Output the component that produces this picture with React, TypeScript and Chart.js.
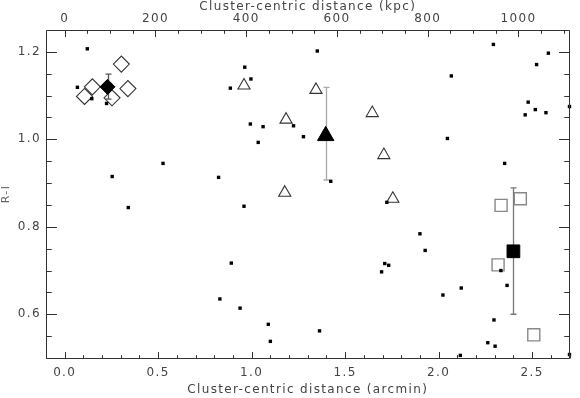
import React, { useEffect, useRef } from 'react';
import { Chart, registerables } from 'chart.js';

Chart.register(...registerables);

// ---- axes ----
const KPC_PER_ARCMIN = 412;
const X_MIN = -0.1;
const X_MAX = 2.7;
const Y_MIN = 0.5;
const Y_MAX = 1.25;
const xTickLabels = [0.0, 0.5, 1.0, 1.5, 2.0, 2.5];
const xTopTickLabels = [0, 200, 400, 600, 800, 1000];
const yTickLabels = [0.6, 0.8, 1.0, 1.2];
const X_MINOR_STEP = 0.1;
const XTOP_MINOR_STEP = 50;
const Y_MINOR_STEP = 0.05;

// ---- individual galaxies (small black squares) ----
const galaxyX = [
  0.121, 0.068, 0.145, 0.224, 0.254, 0.526, 0.823, 0.886, 0.963, 0.996, 0.993, 1.061, 1.035, 1.224,
  1.351, 1.277, 1.423, 2.068, 2.047, 2.293, 2.353, 2.587, 2.524, 2.479, 2.517, 2.463, 2.574, 2.7,
  0.34, 0.959, 0.891, 0.83, 0.938, 1.089, 1.1,
  1.723, 1.9, 1.928, 1.712, 1.733, 1.695, 2.121, 2.023, 2.333, 2.366, 1.363, 2.296, 2.263, 2.302, 2.116, 2.7,
];
const galaxyY = [
  1.207, 1.119, 1.093, 1.082, 0.915, 0.945, 0.913, 1.117, 1.165, 1.138, 1.035, 1.029, 0.993, 1.031,
  1.202, 1.006, 0.904, 1.145, 1.002, 1.217, 0.945, 1.197, 1.171, 1.085, 1.068, 1.056, 1.061, 1.075,
  0.844, 0.847, 0.717, 0.635, 0.614, 0.577, 0.538,
  0.856, 0.784, 0.746, 0.716, 0.712, 0.697, 0.66, 0.644, 0.7, 0.666, 0.562, 0.587, 0.535, 0.527, 0.506, 0.508,
];

// ---- inner group (diamonds) ----
const diamondX = [0.303, 0.148, 0.106, 0.253, 0.338];
const diamondY = [1.172, 1.12, 1.098, 1.095, 1.116];
const diamondMeanX = [0.229];
const diamondMeanY = [1.12];
const diamondErrLo = [1.092];
const diamondErrHi = [1.149];

// ---- middle group (triangles) ----
const triangleX = [0.959, 1.184, 1.177, 1.344, 1.645, 1.707, 1.755];
const triangleY = [1.123, 1.045, 0.878, 1.113, 1.06, 0.964, 0.864];
const triangleMeanX = [1.396];
const triangleMeanY = [1.008];
const triangleErrLo = [0.907];
const triangleErrHi = [1.119];

// ---- outer group (squares) ----
const squareX = [2.334, 2.437, 2.318, 2.509];
const squareY = [0.849, 0.864, 0.713, 0.553];
const squareMeanX = [2.4];
const squareMeanY = [0.744];
const squareErrLo = [0.6];
const squareErrHi = [0.889];

const FONT = '"DejaVu Sans", "Liberation Sans", sans-serif';
const TEXT_COLOR = '#444';
const AXIS_COLOR = '#333';

const pts = (xs: number[], ys: number[]) => xs.map((x, i) => ({ x, y: ys[i] }));

const spacingPlugin = {
  id: 'letterSpacing',
  beforeDraw(chart: any) {
    (chart.ctx as any).letterSpacing = '1.35px';
  },
};

const errorBarPlugin = {
  id: 'errorBars',
  beforeDatasetsDraw(chart: any) {
    const ctx = chart.ctx;
    const xs = chart.scales.x;
    const ys = chart.scales.y;
    chart.data.datasets.forEach((ds: any) => {
      if (!ds.errLo) return;
      ds.data.forEach((p: any, i: number) => {
        const px = Math.round(xs.getPixelForValue(p.x)) + 0.5;
        const y1 = ys.getPixelForValue(ds.errLo[i]);
        const y2 = ys.getPixelForValue(ds.errHi[i]);
        ctx.save();
        ctx.strokeStyle = ds.errColor;
        ctx.lineWidth = 1.3;
        ctx.beginPath();
        ctx.moveTo(px, y1);
        ctx.lineTo(px, y2);
        ctx.moveTo(px - 3, y1);
        ctx.lineTo(px + 3, y1);
        ctx.moveTo(px - 3, y2);
        ctx.lineTo(px + 3, y2);
        ctx.stroke();
        ctx.restore();
      });
    });
  },
};

const framePlugin = {
  id: 'frameTicks',
  afterDatasetsDraw(chart: any) {
    const ctx = chart.ctx;
    const { left, right, top, bottom } = chart.chartArea;
    const xs = chart.scales.x;
    const xt = chart.scales.xTop;
    const ys = chart.scales.y;
    const L = Math.round(left) + 0.5;
    const R = Math.round(right) - 0.5;
    const T = Math.round(top) + 0.5;
    const B = Math.round(bottom) + 0.5;
    ctx.save();
    ctx.strokeStyle = AXIS_COLOR;
    ctx.lineWidth = 1;
    ctx.beginPath();
    ctx.rect(L, T, R - L, B - T);
    const h = bottom - top;
    const w = right - left;
    const xMaj = 0.02 * h;
    const yMaj = 0.02 * w;
    for (let k = Math.ceil(X_MIN / X_MINOR_STEP); k * X_MINOR_STEP <= X_MAX + 1e-9; k++) {
      const v = k * X_MINOR_STEP;
      const isMaj = xTickLabels.some((t) => Math.abs(t - v) < 1e-6);
      const len = isMaj ? xMaj : xMaj / 2;
      const px = Math.round(xs.getPixelForValue(v)) + 0.5;
      ctx.moveTo(px, B);
      ctx.lineTo(px, B - len);
    }
    const kMin = X_MIN * KPC_PER_ARCMIN;
    const kMax = X_MAX * KPC_PER_ARCMIN;
    for (let k = Math.ceil(kMin / XTOP_MINOR_STEP); k * XTOP_MINOR_STEP <= kMax; k++) {
      const v = k * XTOP_MINOR_STEP;
      const isMaj = xTopTickLabels.includes(v);
      const len = isMaj ? xMaj : xMaj / 2;
      const px = Math.round(xt.getPixelForValue(v)) + 0.5;
      ctx.moveTo(px, T);
      ctx.lineTo(px, T + len);
    }
    for (let k = Math.ceil(Y_MIN / Y_MINOR_STEP); k * Y_MINOR_STEP <= Y_MAX + 1e-9; k++) {
      const v = k * Y_MINOR_STEP;
      const isMaj = yTickLabels.some((t) => Math.abs(t - v) < 1e-6);
      const len = isMaj ? yMaj : yMaj / 2;
      const py = Math.round(ys.getPixelForValue(v)) + 0.5;
      ctx.moveTo(L, py);
      ctx.lineTo(L + len, py);
      ctx.moveTo(R, py);
      ctx.lineTo(R - len, py);
    }
    ctx.stroke();
    ctx.restore();
  },
};

export default function App() {
  const ref = useRef<HTMLCanvasElement | null>(null);
  useEffect(() => {
    if (!ref.current) return;
    const chart = new Chart(ref.current, {
      type: 'scatter',
      data: {
        datasets: [
          {
            label: 'galaxies',
            data: pts(galaxyX, galaxyY),
            pointStyle: 'rect',
            pointRadius: 2.4,
            backgroundColor: '#000',
            borderColor: '#000',
            borderWidth: 0,
            order: 0,
            clip: false,
          } as any,
          {
            label: 'diamond mean',
            data: pts(diamondMeanX, diamondMeanY),
            pointStyle: 'rectRot',
            pointRadius: 7.5,
            backgroundColor: '#000',
            borderColor: '#000',
            borderWidth: 1,
            order: 1,
            errLo: diamondErrLo,
            errHi: diamondErrHi,
            errColor: '#555',
          },
          {
            label: 'triangle mean',
            data: pts(triangleMeanX, triangleMeanY),
            pointStyle: 'triangle',
            pointRadius: 9.5,
            backgroundColor: '#000',
            borderColor: '#000',
            borderWidth: 1,
            order: 1,
            errLo: triangleErrLo,
            errHi: triangleErrHi,
            errColor: '#aaa',
          },
          {
            label: 'square mean',
            data: pts(squareMeanX, squareMeanY),
            pointStyle: 'rect',
            pointRadius: 9,
            backgroundColor: '#000',
            borderColor: '#000',
            borderWidth: 1,
            order: 1,
            errLo: squareErrLo,
            errHi: squareErrHi,
            errColor: '#777',
          },
          {
            label: 'diamonds',
            data: pts(diamondX, diamondY),
            pointStyle: 'rectRot',
            pointRadius: 8,
            backgroundColor: 'rgba(255,255,255,0)',
            borderColor: '#333',
            borderWidth: 1.1,
            order: 2,
          },
          {
            label: 'triangles',
            data: pts(triangleX, triangleY),
            pointStyle: 'triangle',
            pointRadius: 7,
            backgroundColor: 'rgba(255,255,255,0)',
            borderColor: '#333',
            borderWidth: 1.1,
            order: 2,
          },
          {
            label: 'squares',
            data: pts(squareX, squareY),
            pointStyle: 'rect',
            pointRadius: 8.5,
            backgroundColor: 'rgba(255,255,255,0)',
            borderColor: '#888',
            borderWidth: 1.4,
            order: 2,
          },
        ],
      },
      options: {
        responsive: false,
        animation: false,
        layout: { padding: { left: 0, right: 1, top: 0, bottom: 0 } },
        plugins: { legend: { display: false }, tooltip: { enabled: false } },
        scales: {
          x: {
            type: 'linear',
            position: 'bottom',
            min: X_MIN,
            max: X_MAX,
            afterBuildTicks: (s: any) => {
              s.ticks = xTickLabels.map((v) => ({ value: v }));
            },
            afterFit: (s: any) => {
              s.height = 40;
            },
            grid: { display: false, drawTicks: false },
            border: { display: false },
            ticks: {
              autoSkip: false,
              maxRotation: 0,
              padding: 8,
              color: TEXT_COLOR,
              font: { family: FONT, size: 12 },
              callback: (v: any) => Number(v).toFixed(1),
            },
            title: {
              display: true,
              text: 'Cluster-centric distance (arcmin)',
              color: TEXT_COLOR,
              font: { family: FONT, size: 12 },
              padding: { top: 0, bottom: 1 },
            },
          },
          xTop: {
            type: 'linear',
            axis: 'x',
            position: 'top',
            min: X_MIN * KPC_PER_ARCMIN,
            max: X_MAX * KPC_PER_ARCMIN,
            afterBuildTicks: (s: any) => {
              s.ticks = xTopTickLabels.map((v) => ({ value: v }));
            },
            afterFit: (s: any) => {
              s.height = 30;
            },
            grid: { display: false, drawTicks: false },
            border: { display: false },
            ticks: {
              autoSkip: false,
              maxRotation: 0,
              padding: 4,
              color: TEXT_COLOR,
              font: { family: FONT, size: 12 },
              callback: (v: any) => String(Math.round(Number(v))),
            },
            title: {
              display: true,
              text: 'Cluster-centric distance (kpc)',
              color: TEXT_COLOR,
              font: { family: FONT, size: 12 },
              padding: { top: 0, bottom: 0 },
            },
          },
          y: {
            type: 'linear',
            position: 'left',
            min: Y_MIN,
            max: Y_MAX,
            afterBuildTicks: (s: any) => {
              s.ticks = yTickLabels.map((v) => ({ value: v }));
            },
            afterFit: (s: any) => {
              s.width = 46;
            },
            grid: { display: false, drawTicks: false },
            border: { display: false },
            ticks: {
              autoSkip: false,
              padding: 5,
              color: TEXT_COLOR,
              font: { family: FONT, size: 12 },
              callback: (v: any) => Number(v).toFixed(1),
            },
            title: {
              display: true,
              text: 'R-I',
              color: '#666',
              font: { family: FONT, size: 11 },
              padding: { top: 0, bottom: 0 },
            },
          },
        },
      } as any,
      plugins: [spacingPlugin, errorBarPlugin, framePlugin],
    });
    return () => chart.destroy();
  }, []);

  return (
    <div style={{ position: 'fixed', left: 0, top: 0, width: 580, height: 398, background: '#fff' }}>
      <canvas ref={ref} width={580} height={398} style={{ display: 'block' }} />
    </div>
  );
}
